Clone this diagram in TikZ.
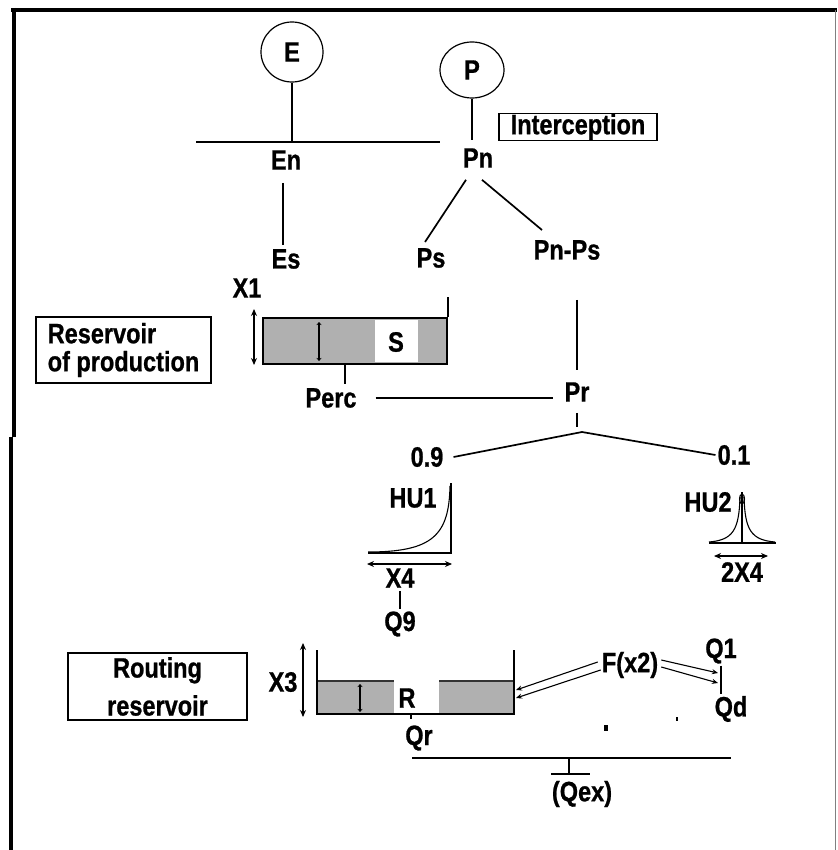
\documentclass[tikz,border=0pt]{standalone}
\usepackage{fontspec}
\setmainfont{Liberation Sans}
\newfontfamily\diagfont{Liberation Sans}[FakeStretch=0.84,BoldFeatures={FakeBold=0.8}]
\usetikzlibrary{arrows.meta,calc,shapes.geometric}
\tikzset{
  lbl/.style={font=\diagfont\bfseries\fontsize{28}{28}\selectfont,inner sep=0pt},
  boxed/.style={lbl,draw,line width=1.5pt},
  wire/.style={line width=1.7pt},
  thinwire/.style={line width=1.1pt},
  water/.style={fill=gray!62},
  dimarrow/.style={thinwire,{Stealth[length=7pt,width=6pt]}-{Stealth[length=7pt,width=6pt]}},
  lvlarrow/.style={thinwire,{Stealth[length=3pt,width=5pt]}-{Stealth[length=3pt,width=5pt]}},
  flowarrow/.style={thinwire,-{Stealth[length=6pt,width=5pt]}}
}
\begin{document}
\begin{tikzpicture}[x=1pt,y=-1pt]
  \useasboundingbox (0,0) rectangle (837,850);
  % frame
  \draw[line width=4pt] (11,10)--(837,10);
  \draw[line width=4pt] (14,8)--(14,437);
  \draw[line width=4pt] (11,437)--(11,850);
  \draw[gray,line width=1.2pt] (835.5,10)--(835.5,850);

  % interception
  \node[lbl,ellipse,draw,line width=1.2pt,minimum width=62pt,minimum height=60pt] (E) at (292,52) {E};
  \node[lbl,ellipse,draw,line width=1.2pt,minimum width=64pt,minimum height=56pt] (P) at (472,70) {P};
  \coordinate (barL) at (196,142);
  \coordinate (barR) at (440,142);
  \draw[wire] (barL)--(barR);
  \draw[wire] (E.south)--(E.south |- barL);
  \draw[wire] (P.south)--($(P.south |- barL)+(0,-2)$);
  \node[boxed,minimum width=158pt,minimum height=27pt] (icp) at (578,127) {Interception};
  \node[lbl] (en) at (286,160) {En};
  \node[lbl] (pn) at (478,158) {Pn};
  \node[lbl] (es) at (286,259) {Es};
  \node[lbl] (ps) at (431,258) {Ps};
  \node[lbl] (pnps) at (567,250) {Pn-Ps};
  \draw[wire] ($(en.south)+(-3,13)$)--($(es.north)+(-3,-4)$);
  \draw[wire] ($(pn.south)+(-12,12)$)--($(ps.north)+(-6,-6)$);
  \draw[wire] ($(pn.south)+(4,12)$)--($(pnps.north)+(-25,-10)$);

  % production store
  \node[lbl] (x1) at (247,288) {X1};
  \node[draw,wire,water,minimum width=184pt,minimum height=46pt] (sres) at (355,341) {};
  \fill[white] (375,320) rectangle (418,362);
  \node[lbl] (S) at (396,342) {S};
  \draw[wire] (sres.north east)--++(0,-20);
  \draw[lvlarrow] (319,322)--(319,361);
  \draw[dimarrow] (254,309)--(254,365);
  \node[boxed,align=left,minimum width=175pt,minimum height=66pt] (prodbox) at (123.5,350) {Reservoir\\ of production};
  \node[lbl] (perc) at (331,398) {Perc};
  \node[lbl] (pr) at (577,392) {Pr};
  \draw[wire] (sres.south -| 345,0)--++(0,19);
  \draw[wire] ($(perc.east)+(19,0)$)--($(pr.west |- perc.east)+(-11,0)$);
  \draw[wire] ($(pnps.south)+(10,40)$)--($(pr.north)+(0,-12)$);
  \draw[wire] ($(pr.south)+(0,11)$)--($(pr.south)+(0,25)$);

  % split
  \coordinate (split) at (582,432);
  \node[lbl] (p09) at (427,457) {0.9};
  \node[lbl] (p01) at (734,455) {0.1};
  \draw[wire] ($(p09.east)+(10,0)$)--(split)--($(p01.west)+(-2,0)$);

  % unit hydrographs
  \node[lbl] (hu1) at (413,498) {HU1};
  \draw[thinwire] (451,483)--(451,553)--(368,553);
  \draw[thinwire] (368,552) .. controls (433,552) and (449,535) .. (450,486);
  \draw[dimarrow] (367,564)--(452,564);
  \node[lbl] (x4) at (400,578) {X4};
  \node[lbl] (q9) at (400,624) {Q9};
  \draw[wire] ($(x4.south)+(0,3)$)--($(q9.north)+(0,-2)$);
  \node[lbl] (hu2) at (708,502) {HU2};
  \draw[thinwire] (742,492)--(742,543) (709,543)--(776,543);
  \draw[thinwire] (709,542) .. controls (733,540) and (739,530) .. (740,497);
  \draw[thinwire] (775,542) .. controls (751,540) and (745,530) .. (744,497);
  \draw[thinwire] (742,499) ellipse[x radius=2.5pt,y radius=5pt];
  \draw[dimarrow] (714,556)--(768,556);
  \node[lbl] (x42) at (742,572) {2X4};

  % routing store
  \node[boxed,align=center,minimum width=179pt,minimum height=67pt] (routbox) at (157.5,686.5) {Routing\\[10pt] reservoir};
  \coordinate (rsw) at (317,714);
  \coordinate (rse) at (514,714);
  \fill[water] (317,681) rectangle (rse);
  \fill[white] (394,681) rectangle (439,713);
  \draw[line width=1.6pt,gray!40!black] (317,681)--(394,681) (439,681)--(514,681);
  \draw[wire] ($(rsw)+(0,-64)$)--(rsw)--(rse)--($(rse)+(0,-64)$);
  \node[lbl] (R) at (407,698) {R};
  \draw[lvlarrow] (360,684)--(360,712);
  \draw[dimarrow] (303,643)--(303,717);
  \node[lbl] (x3) at (283,682) {X3};
  \draw[thinwire] (411,714)--(411,719);
  \node[lbl] (qr) at (419,738) {Qr};

  % exchange
  \node[lbl] (fx) at (630,665) {F(x2)};
  \draw[flowarrow] ($(fx.west)+(-4,-3)$)--($(rse)+(2,-24)$);
  \draw[flowarrow] ($(fx.west)+(-1,5)$)--($(rse)+(2,-16)$);
  \node[lbl] (q1) at (721,651) {Q1};
  \node[lbl] (qd) at (731,709) {Qd};
  \draw[wire] ($(q1.south)+(0,2)$)--($(qd.north)+(-10,-2)$);
  \draw[flowarrow] ($(fx.east)+(3,-5)$)--(718,673);
  \draw[flowarrow] ($(fx.east)+(3,2)$)--(718,683);
  \fill (604,725) rectangle (608,731);
  \fill (676,717) rectangle (678,721);
  \coordinate (exL) at (412,758);
  \coordinate (exR) at (731,758);
  \draw[wire] (exL)--(exR);
  \draw[wire] (569,758)--(569,774) (551,774)--(590,774);
  \node[lbl] (qex) at (582,794) {(Qex)};
\end{tikzpicture}
\end{document}
